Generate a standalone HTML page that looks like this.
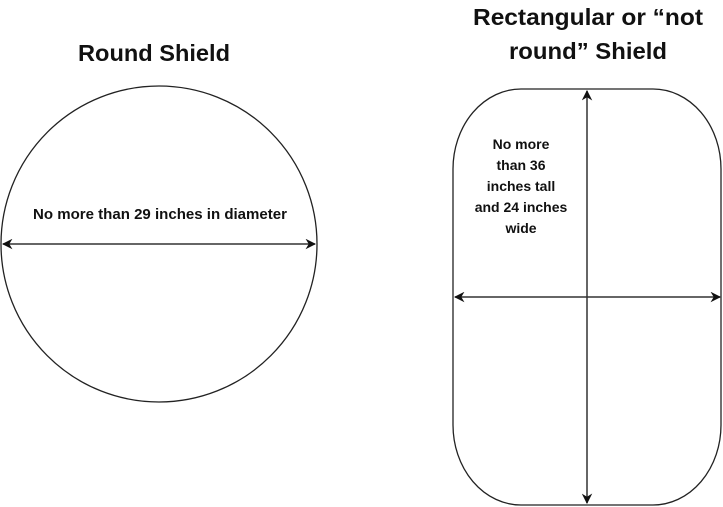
<!DOCTYPE html>
<html><head><meta charset="utf-8"><style>
html,body{margin:0;padding:0;background:#fff;}
svg{display:block;}
text{font-family:"Liberation Sans",sans-serif;font-weight:bold;fill:#111;}
</style></head><body>
<svg width="723" height="507" viewBox="0 0 723 507" xmlns="http://www.w3.org/2000/svg">
<defs>
<marker id="a" viewBox="0 0 10 10" refX="9" refY="5" markerWidth="7" markerHeight="7" orient="auto-start-reverse">
<path d="M0,0 L10,5 L0,10 L3,5 z" fill="#111"/></marker>
</defs>
<text x="154" y="61" font-size="23" text-anchor="middle" textLength="152" lengthAdjust="spacingAndGlyphs">Round Shield</text>
<circle cx="159" cy="244" r="158" fill="none" stroke="#222" stroke-width="1.3"/>
<text x="160" y="219" font-size="14.5" text-anchor="middle" textLength="254" lengthAdjust="spacingAndGlyphs">No more than 29 inches in diameter</text>
<line x1="3" y1="244" x2="315" y2="244" stroke="#333" stroke-width="1.5" marker-start="url(#a)" marker-end="url(#a)"/>

<text x="588" y="25" font-size="23" text-anchor="middle" textLength="230" lengthAdjust="spacingAndGlyphs">Rectangular or “not</text>
<text x="588" y="59" font-size="23" text-anchor="middle" textLength="158" lengthAdjust="spacingAndGlyphs">round” Shield</text>
<rect x="453" y="89" width="268" height="416" rx="68" ry="80" fill="none" stroke="#222" stroke-width="1.3"/>
<line x1="587" y1="91" x2="587" y2="503" stroke="#333" stroke-width="1.5" marker-start="url(#a)" marker-end="url(#a)"/>
<line x1="455" y1="297" x2="720" y2="297" stroke="#333" stroke-width="1.5" marker-start="url(#a)" marker-end="url(#a)"/>
<g font-size="14" text-anchor="middle">
<text x="521" y="149">No more</text>
<text x="521" y="170">than 36</text>
<text x="521" y="191">inches tall</text>
<text x="521" y="212">and 24 inches</text>
<text x="521" y="233">wide</text>
</g>
</svg>
</body></html>
